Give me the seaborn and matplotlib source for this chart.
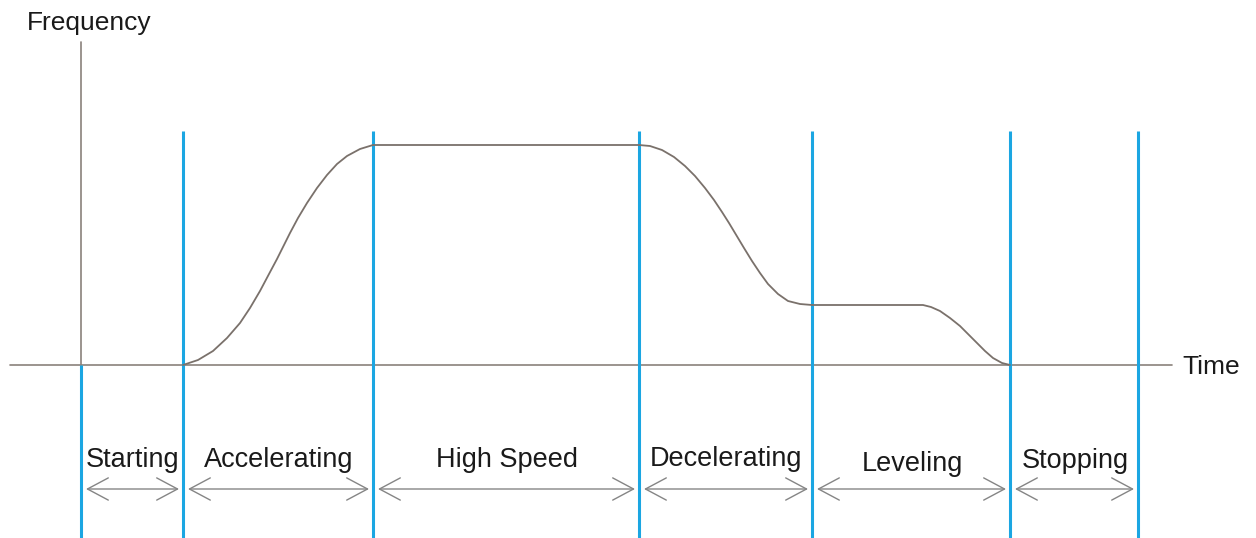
import numpy as np
import pandas as pd
import matplotlib
matplotlib.use("Agg")
import matplotlib.pyplot as plt
import seaborn as sns

# phase boundaries on the time axis and the phase names between them
boundaries = [81, 183, 373, 639, 812, 1010, 1138]
phases = ["Starting", "Accelerating", "High Speed", "Decelerating", "Leveling", "Stopping"]

# frequency profile (time, frequency)
accel_t = [183, 198, 213, 227, 240, 250, 260, 269, 277, 284, 290, 298, 307, 317, 327, 337, 347, 360, 373]
accel_f = [0, 5, 14, 27, 42, 57, 74, 91, 106, 120, 132, 147, 162, 177, 190, 201, 209, 216, 220]
high_t = [373, 639]
high_f = [220, 220]
decel_t = [639, 650, 662, 674, 685, 695, 705, 714, 722, 729, 735, 744, 752, 760, 768, 778, 788, 800, 812]
decel_f = [220, 219, 215, 208, 199, 189, 177, 165, 153, 142, 132, 117, 104, 92, 81, 71, 64, 61, 60]
level_t = [812, 923, 931, 940, 950, 960, 968, 977, 985, 993, 1002, 1010]
level_f = [60, 60, 58, 54, 47, 39, 31, 22, 14, 7, 2, 0]

profile = pd.DataFrame({
    "time": accel_t + high_t + decel_t + level_t,
    "freq": accel_f + high_f + decel_f + level_f,
})

sns.set_style("white")
plt.rcParams["font.family"] = ["Liberation Sans", "DejaVu Sans"]

W, H = 1256, 538
base = 365  # pixel row of the time axis


def f(row):
    return base - row


fig = plt.figure(figsize=(W / 100, H / 100), dpi=100)
ax = fig.add_axes([0, 0, 1, 1])
ax.set_xlim(0, W)
ax.set_ylim(f(H), f(0))
ax.axis("off")

axis_col = "#8a817b"
curve_col = "#7a716b"
blue = "#1ba6e2"
txt_col = "#1a1a1a"

# axes
ax.plot([10, 1172], [0, 0], color=axis_col, lw=1.2, zorder=2)
ax.plot([81, 81], [0, f(42)], color=axis_col, lw=1.2, zorder=2)
ax.text(27, f(30), "Frequency", fontsize=19, color=txt_col, ha="left", va="baseline")
ax.text(1182, f(374), "Time", fontsize=19, color=txt_col, ha="left", va="baseline")

# phase separators
ax.vlines(boundaries[0], f(H), 0, color=blue, lw=2.2, zorder=3)
ax.vlines(boundaries[1:], f(H), f(131), color=blue, lw=2.2, zorder=3)

# frequency curve
sns.lineplot(data=profile, x="time", y="freq", sort=False, estimator=None,
             color=curve_col, lw=1.3, ax=ax, zorder=4)

# phase labels and double arrows
label_base = [467, 467, 467, 466, 471, 468]
for i, name in enumerate(phases):
    x0, x1 = boundaries[i], boundaries[i + 1]
    ax.text((x0 + x1) / 2 + 1, f(label_base[i]), name, fontsize=19.5, color=txt_col,
            ha="center", va="baseline")
    ax.annotate("", xy=(x1 - 4, f(489)), xytext=(x0 + 5, f(489)),
                arrowprops=dict(arrowstyle="<->,head_length=0.75,head_width=0.4",
                                color="#858585", lw=1.0, mutation_scale=20,
                                shrinkA=0, shrinkB=0))

ax.set_xlabel("")
ax.set_ylabel("")
fig.savefig("out.png", dpi=100)
